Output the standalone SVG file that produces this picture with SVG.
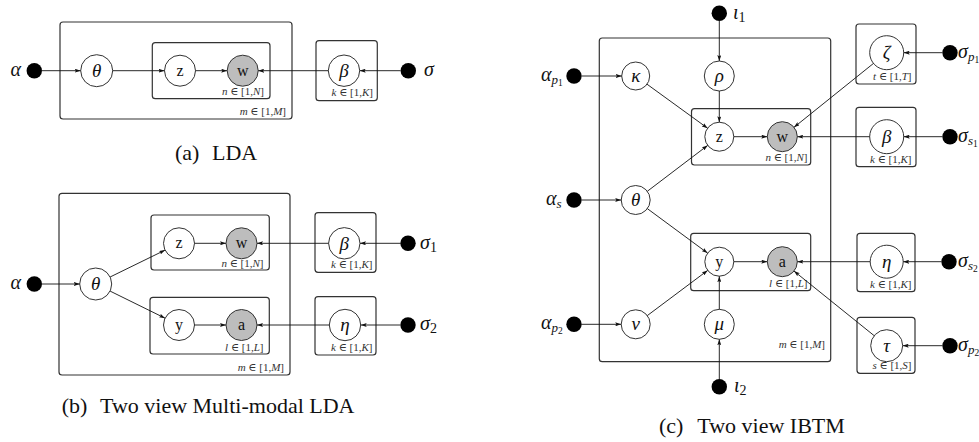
<svg xmlns="http://www.w3.org/2000/svg" width="979" height="442" viewBox="0 0 979 442" font-family="'Liberation Serif', 'DejaVu Serif', 'Times New Roman', serif">
<defs>
<marker id="ah" viewBox="0 0 6 4" markerWidth="6" markerHeight="4" refX="6" refY="2" orient="auto" markerUnits="userSpaceOnUse"><path d="M0,0 L6,2 L0,4 L1.2,2 z" fill="#111"/></marker>
<style>
.plate{fill:none;stroke:#333;stroke-width:1.2}
.node{fill:#fff;stroke:#333;stroke-width:1}
.obs{fill:#bdbdbd;stroke:#333;stroke-width:1}
.dot{fill:#000}
.edge{stroke:#111;stroke-width:0.9;fill:none;marker-end:url(#ah)}
text{font-family:'Liberation Serif','DejaVu Serif','Times New Roman',serif}
.gk{font-style:italic;font-size:19px;fill:#111;text-anchor:middle}
.rm{font-size:16px;fill:#111;text-anchor:middle}
.pl{font-size:11px;fill:#333;text-anchor:end}
.pl .i{font-style:italic}
.sd{font-style:italic;font-size:20px;fill:#111}
.sd .s{font-size:13px}
.sd .ss{font-size:9.5px;font-style:normal}
.sd .n{font-size:14px;font-style:normal}
.cap{font-size:22px;fill:#111}
</style>
</defs>

<!-- ============ (a) LDA ============ -->
<g id="a-plate-m"><rect class="plate" x="60" y="22" width="232" height="97" rx="3"/>
<text class="pl" x="286" y="115"><tspan class="i">m</tspan> ∈ [1,<tspan class="i">M</tspan>]</text></g>
<g id="a-plate-n"><rect class="plate" x="152.3" y="42.7" width="117.7" height="56" rx="3"/>
<text class="pl" x="264" y="95"><tspan class="i">n</tspan> ∈ [1,<tspan class="i">N</tspan>]</text></g>
<g id="a-plate-k"><rect class="plate" x="316" y="40.7" width="61.3" height="60" rx="3"/></g>
<g id="a-alpha"><circle class="dot" cx="34.3" cy="70.7" r="7.7"/><text class="sd" x="21" y="76" text-anchor="end">α</text></g>
<g id="a-theta"><circle class="node" cx="96.7" cy="70.7" r="16"/><text class="gk" x="96.7" y="77">θ</text></g>
<g id="a-z"><circle class="node" cx="180" cy="70.7" r="15.5"/><text class="rm" x="180" y="75.5">z</text></g>
<g id="a-w"><circle class="obs" cx="242.7" cy="70.7" r="15.5"/><text class="rm" x="242.7" y="75.5">w</text></g>
<g id="a-beta"><circle class="node" cx="344" cy="70.7" r="15.7"/><text class="gk" x="344" y="77">β</text>
<text class="pl" x="373" y="96"><tspan class="i">k</tspan> ∈ [1,<tspan class="i">K</tspan>]</text></g>
<g id="a-sigma"><circle class="dot" cx="408.3" cy="70.7" r="7.7"/><text class="sd" x="424" y="76">σ</text></g>
<g id="a-edges">
<line class="edge" x1="42" y1="70.7" x2="80.7" y2="70.7"/>
<line class="edge" x1="112.7" y1="70.7" x2="164.5" y2="70.7"/>
<line class="edge" x1="195.5" y1="70.7" x2="227.2" y2="70.7"/>
<line class="edge" x1="328.3" y1="70.7" x2="258.2" y2="70.7"/>
<line class="edge" x1="400.6" y1="70.7" x2="359.7" y2="70.7"/>
</g>
<text class="cap" x="175" y="160">(a)<tspan x="212">LDA</tspan></text>

<!-- ============ (b) Two view Multi-modal LDA ============ -->
<g id="b-plate-m"><rect class="plate" x="59" y="193.3" width="231" height="181.7" rx="3"/>
<text class="pl" x="284" y="371"><tspan class="i">m</tspan> ∈ [1,<tspan class="i">M</tspan>]</text></g>
<g id="b-plate-n"><rect class="plate" x="151" y="215" width="118.3" height="55" rx="3"/>
<text class="pl" x="263.5" y="266.5"><tspan class="i">n</tspan> ∈ [1,<tspan class="i">N</tspan>]</text></g>
<g id="b-plate-l"><rect class="plate" x="150" y="297.3" width="119.3" height="56.7" rx="3"/>
<text class="pl" x="263.5" y="350.5"><tspan class="i">l</tspan> ∈ [1,<tspan class="i">L</tspan>]</text></g>
<g id="b-plate-k1"><rect class="plate" x="315" y="212.7" width="61" height="59.6" rx="3"/></g>
<g id="b-plate-k2"><rect class="plate" x="315" y="296.7" width="61" height="58.3" rx="3"/></g>
<g id="b-alpha"><circle class="dot" cx="34.3" cy="284" r="7.7"/><text class="sd" x="21" y="289.3" text-anchor="end">α</text></g>
<g id="b-theta"><circle class="node" cx="95.7" cy="284" r="16"/><text class="gk" x="95.7" y="290.3">θ</text></g>
<g id="b-z"><circle class="node" cx="179" cy="243.3" r="15.5"/><text class="rm" x="179" y="248.1">z</text></g>
<g id="b-w"><circle class="obs" cx="241.5" cy="243.3" r="15.5"/><text class="rm" x="241.5" y="248.1">w</text></g>
<g id="b-y"><circle class="node" cx="179" cy="325" r="15.5"/><text class="rm" x="179" y="329.8">y</text></g>
<g id="b-a"><circle class="obs" cx="241.5" cy="325" r="15.5"/><text class="rm" x="241.5" y="329.8">a</text></g>
<g id="b-beta"><circle class="node" cx="344.3" cy="243.3" r="15.7"/><text class="gk" x="344.3" y="249.6">β</text>
<text class="pl" x="372.5" y="268"><tspan class="i">k</tspan> ∈ [1,<tspan class="i">K</tspan>]</text></g>
<g id="b-eta"><circle class="node" cx="345" cy="325" r="15.7"/><text class="gk" x="345" y="331.3">η</text>
<text class="pl" x="372.5" y="350.5"><tspan class="i">k</tspan> ∈ [1,<tspan class="i">K</tspan>]</text></g>
<g id="b-sigma1"><circle class="dot" cx="408" cy="243.3" r="7.7"/><text class="sd" x="420" y="248.5">σ<tspan class="n" dy="3">1</tspan></text></g>
<g id="b-sigma2"><circle class="dot" cx="408" cy="325" r="7.7"/><text class="sd" x="420" y="330.2">σ<tspan class="n" dy="3">2</tspan></text></g>
<g id="b-edges">
<line class="edge" x1="42" y1="284" x2="79.7" y2="284"/>
<line class="edge" x1="110.1" y1="277" x2="165.1" y2="250.1"/>
<line class="edge" x1="110.1" y1="291.1" x2="165.1" y2="318.2"/>
<line class="edge" x1="194.5" y1="243.3" x2="226" y2="243.3"/>
<line class="edge" x1="194.5" y1="325" x2="226" y2="325"/>
<line class="edge" x1="328.6" y1="243.3" x2="257" y2="243.3"/>
<line class="edge" x1="329.3" y1="325" x2="257" y2="325"/>
<line class="edge" x1="400.3" y1="243.3" x2="360" y2="243.3"/>
<line class="edge" x1="400.3" y1="325" x2="360.7" y2="325"/>
</g>
<text class="cap" x="61.7" y="413.3">(b)<tspan x="100">Two view Multi-modal LDA</tspan></text>

<!-- ============ (c) Two view IBTM ============ -->
<g id="c-plate-m"><rect class="plate" x="599.3" y="38" width="231.4" height="323.7" rx="3"/>
<text class="pl" x="825" y="348"><tspan class="i">m</tspan> ∈ [1,<tspan class="i">M</tspan>]</text></g>
<g id="c-plate-n"><rect class="plate" x="691.5" y="108.7" width="119.2" height="56.3" rx="3"/>
<text class="pl" x="807.5" y="161"><tspan class="i">n</tspan> ∈ [1,<tspan class="i">N</tspan>]</text></g>
<g id="c-plate-l"><rect class="plate" x="690.7" y="233.3" width="120" height="57.4" rx="3"/>
<text class="pl" x="807.5" y="286.5"><tspan class="i">l</tspan> ∈ [1,<tspan class="i">L</tspan>]</text></g>
<g id="c-plate-t"><rect class="plate" x="856" y="24" width="60" height="60" rx="3"/></g>
<g id="c-plate-k1"><rect class="plate" x="856" y="107.3" width="60" height="59.4" rx="3"/></g>
<g id="c-plate-k2"><rect class="plate" x="857" y="233.3" width="58" height="58.4" rx="3"/></g>
<g id="c-plate-s"><rect class="plate" x="857" y="317.3" width="58" height="56" rx="3"/></g>

<g id="c-iota1"><circle class="dot" cx="719.3" cy="13.3" r="7.7"/><text class="sd" x="733" y="18.5">ι<tspan class="n" dy="3">1</tspan></text></g>
<g id="c-iota2"><circle class="dot" cx="719.3" cy="386.7" r="7.7"/><text class="sd" x="734" y="391.9">ι<tspan class="n" dy="3">2</tspan></text></g>
<g id="c-alpha-p1"><circle class="dot" cx="574" cy="76" r="7.7"/><text class="sd" x="541" y="81">α<tspan class="s" dy="3">p</tspan><tspan class="ss" dy="2">1</tspan></text></g>
<g id="c-alpha-s"><circle class="dot" cx="574" cy="200" r="7.7"/><text class="sd" x="546" y="205">α<tspan class="s" dy="3">s</tspan></text></g>
<g id="c-alpha-p2"><circle class="dot" cx="574" cy="324.3" r="7.7"/><text class="sd" x="541" y="329.3">α<tspan class="s" dy="3">p</tspan><tspan class="ss" dy="2">2</tspan></text></g>

<g id="c-kappa"><circle class="node" cx="635.7" cy="76" r="14"/><text class="gk" x="635.7" y="82">κ</text></g>
<g id="c-rho"><circle class="node" cx="719.3" cy="76" r="15"/><text class="gk" x="719.3" y="82">ρ</text></g>
<g id="c-theta"><circle class="node" cx="635.7" cy="200" r="14.5"/><text class="gk" x="635.7" y="206.3">θ</text></g>
<g id="c-nu"><circle class="node" cx="635.7" cy="324.3" r="14.5"/><text class="gk" x="635.7" y="330.3">ν</text></g>
<g id="c-mu"><circle class="node" cx="719.3" cy="324.3" r="15"/><text class="gk" x="719.3" y="330.3">μ</text></g>
<g id="c-z"><circle class="node" cx="719.3" cy="136.7" r="14.5"/><text class="rm" x="719.3" y="141.5">z</text></g>
<g id="c-w"><circle class="obs" cx="782.3" cy="136.7" r="15"/><text class="rm" x="782.3" y="141.5">w</text></g>
<g id="c-y"><circle class="node" cx="719.3" cy="261.7" r="14.5"/><text class="rm" x="719.3" y="266.5">y</text></g>
<g id="c-a"><circle class="obs" cx="782.3" cy="261.7" r="15"/><text class="rm" x="782.3" y="266.5">a</text></g>
<g id="c-zeta"><circle class="node" cx="886.7" cy="52.7" r="17"/><text class="gk" x="886.7" y="59">ζ</text>
<text class="pl" x="911.5" y="80"><tspan class="i">t</tspan> ∈ [1,<tspan class="i">T</tspan>]</text></g>
<g id="c-beta"><circle class="node" cx="886.7" cy="136.7" r="17"/><text class="gk" x="886.7" y="143">β</text>
<text class="pl" x="911.5" y="163"><tspan class="i">k</tspan> ∈ [1,<tspan class="i">K</tspan>]</text></g>
<g id="c-eta"><circle class="node" cx="886.7" cy="261.7" r="16.5"/><text class="gk" x="886.7" y="268">η</text>
<text class="pl" x="911.5" y="288"><tspan class="i">k</tspan> ∈ [1,<tspan class="i">K</tspan>]</text></g>
<g id="c-tau"><circle class="node" cx="886.7" cy="345.7" r="16"/><text class="gk" x="886.7" y="351.8">τ</text>
<text class="pl" x="911.5" y="369"><tspan class="i">s</tspan> ∈ [1,<tspan class="i">S</tspan>]</text></g>
<g id="c-sigma-p1"><circle class="dot" cx="950" cy="52.7" r="7.7"/><text class="sd" x="958" y="57.7">σ<tspan class="s" dy="3">p</tspan><tspan class="ss" dy="2">1</tspan></text></g>
<g id="c-sigma-s1"><circle class="dot" cx="950" cy="136.7" r="7.7"/><text class="sd" x="958" y="141.7">σ<tspan class="s" dy="3">s</tspan><tspan class="ss" dy="2">1</tspan></text></g>
<g id="c-sigma-s2"><circle class="dot" cx="949" cy="261.7" r="7.7"/><text class="sd" x="958" y="266.7">σ<tspan class="s" dy="3">s</tspan><tspan class="ss" dy="2">2</tspan></text></g>
<g id="c-sigma-p2"><circle class="dot" cx="950" cy="345.7" r="7.7"/><text class="sd" x="958" y="350.7">σ<tspan class="s" dy="3">p</tspan><tspan class="ss" dy="2">2</tspan></text></g>

<g id="c-edges">
<line class="edge" x1="719.3" y1="21" x2="719.3" y2="61"/>
<line class="edge" x1="719.3" y1="91" x2="719.3" y2="122.2"/>
<line class="edge" x1="719.3" y1="379" x2="719.3" y2="339.3"/>
<line class="edge" x1="719.3" y1="309.3" x2="719.3" y2="276.2"/>
<line class="edge" x1="581.7" y1="76" x2="621.7" y2="76"/>
<line class="edge" x1="581.7" y1="200" x2="621.2" y2="200"/>
<line class="edge" x1="581.7" y1="324.3" x2="621.2" y2="324.3"/>
<line class="edge" x1="647" y1="84.2" x2="707.6" y2="128.2"/>
<line class="edge" x1="647.3" y1="191.3" x2="707.7" y2="145.4"/>
<line class="edge" x1="647.3" y1="208.6" x2="707.6" y2="253.1"/>
<line class="edge" x1="647.3" y1="315.6" x2="707.7" y2="270.4"/>
<line class="edge" x1="733.8" y1="136.7" x2="767.3" y2="136.7"/>
<line class="edge" x1="733.8" y1="261.7" x2="767.3" y2="261.7"/>
<line class="edge" x1="869.7" y1="136.7" x2="797.3" y2="136.7"/>
<line class="edge" x1="870.2" y1="261.7" x2="797.3" y2="261.7"/>
<line class="edge" x1="873.5" y1="63.4" x2="794" y2="127.3"/>
<line class="edge" x1="874.2" y1="335.7" x2="794" y2="271.1"/>
<line class="edge" x1="942.3" y1="52.7" x2="903.7" y2="52.7"/>
<line class="edge" x1="942.3" y1="136.7" x2="903.7" y2="136.7"/>
<line class="edge" x1="941.3" y1="261.7" x2="903.2" y2="261.7"/>
<line class="edge" x1="942.3" y1="345.7" x2="902.7" y2="345.7"/>
</g>
<text class="cap" x="659" y="433">(c)<tspan x="697.3">Two view IBTM</tspan></text>
</svg>
